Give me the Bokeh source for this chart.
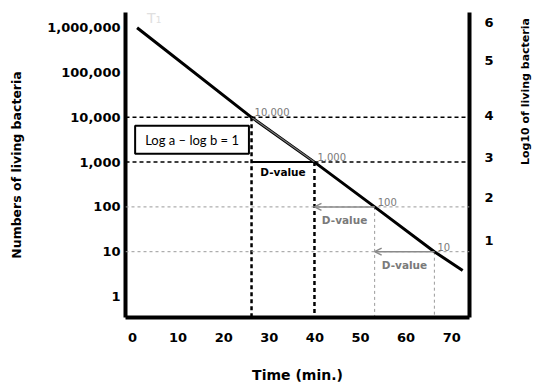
import math
from bokeh.plotting import figure
from bokeh.models import (Range1d, LinearAxis, LinearScale, FixedTicker, Span, Arrow,
                          OpenHead, Label)
from bokeh.core.properties import value
from bokeh.embed import file_html
from bokeh.resources import INLINE

# ---- data ----
times = [1.0, 26.1, 39.9, 53.1, 66.2, 72.4]
counts = [1_000_000, 10_000, 1_000, 100, 10, 3.8]

ref_times = [26.1, 39.9, 53.1, 66.2]
ref_counts = [10_000, 1_000, 100, 10]
ref_labels = ["10,000", "1,000", "100", "10"]

y_ticks = [1, 10, 100, 1_000, 10_000, 100_000, 1_000_000]
y_tick_labels = ["1", "10", "100", "1,000", "10,000", "100,000", "1,000,000"]
x_ticks = [0, 10, 20, 30, 40, 50, 60, 70]
right_tick_pos = [6.12, 5.27, 4.04, 3.1, 2.21, 1.25]
right_tick_labels = ["6", "5", "4", "3", "2", "1"]
d_label = "D-value"
box_text = "Log a \u2013 log b = 1"
curve_name = "T\u2081"
left_title = "Numbers of living bacteria"
right_title = "Log10 of living bacteria"
bottom_title = "Time (min.)"

# ---- layout ----
y_lo_log, y_hi_log = -0.469, 6.34
y_min, y_max = 10 ** y_lo_log, 10 ** y_hi_log
x_min, x_max = -1.54, 73.9

p = figure(width=541, height=385, output_backend="svg", toolbar_location=None,
           y_axis_type="log", x_range=Range1d(x_min, x_max), y_range=Range1d(y_min, y_max),
           min_border_left=125, min_border_right=72, min_border_top=12, min_border_bottom=68,
           background_fill_color="white", border_fill_color="white")
p.outline_line_color = None
p.grid.visible = False

FONT = "DejaVu Sans"

la = p.yaxis[0]
la.ticker = FixedTicker(ticks=y_ticks)
la.major_label_overrides = {t: l for t, l in zip(y_ticks, y_tick_labels)}
la.axis_label = left_title

ba = p.xaxis[0]
ba.ticker = FixedTicker(ticks=x_ticks)
ba.axis_label = bottom_title

p.extra_y_ranges = {"log10": Range1d(y_lo_log, y_hi_log)}
p.extra_y_scales = {"log10": LinearScale()}
ra = LinearAxis(y_range_name="log10", ticker=FixedTicker(ticks=right_tick_pos),
                major_label_overrides={t: l for t, l in zip(right_tick_pos, right_tick_labels)},
                axis_label=right_title)
p.add_layout(ra, "right")

for ax in (la, ba, ra):
    ax.axis_line_width = 4
    ax.axis_line_color = "black"
    ax.major_tick_line_color = None
    ax.minor_tick_line_color = None
    ax.major_tick_out = 0
    ax.major_tick_in = 0
    ax.minor_tick_out = 0
    ax.minor_tick_in = 0
    ax.major_label_text_font = FONT
    ax.major_label_text_font_style = "bold"
    ax.major_label_text_font_size = "13px"
    ax.major_label_text_color = "black"
    ax.axis_label_text_font = FONT
    ax.axis_label_text_font_style = "bold"
    ax.axis_label_text_color = "black"

la.major_label_standoff = 5
la.axis_label_standoff = 20
la.axis_label_text_font_size = "12.5px"
ba.major_label_standoff = 15
ba.axis_label_standoff = 22
ba.axis_label_text_font_size = "14px"
ra.major_label_standoff = 15
ra.axis_label_standoff = 29
ra.axis_label_text_font_size = "11px"
ra.axis_label_orientation = math.pi / 2

# horizontal reference lines
for i, c in enumerate(ref_counts):
    if i < 2:
        p.add_layout(Span(location=c, dimension="width", line_color="black",
                          line_width=1.5, line_dash="4 3"))
    else:
        p.add_layout(Span(location=c, dimension="width", line_color="#9a9a9a",
                          line_width=1, line_dash="3 3"))

# vertical reference lines down to the time axis
p.segment(x0=ref_times[:2], y0=ref_counts[:2], x1=ref_times[:2], y1=[y_min] * 2,
          line_color="black", line_width=2.5, line_dash="4 3")
p.segment(x0=ref_times[2:], y0=ref_counts[2:], x1=ref_times[2:], y1=[y_min] * 2,
          line_color="#9a9a9a", line_width=1, line_dash="3 3")

# D-value intervals
p.segment(x0=[ref_times[0]], y0=[ref_counts[1]], x1=[ref_times[1]], y1=[ref_counts[1]],
          line_color="black", line_width=2)
for i in (1, 2):
    p.add_layout(Arrow(x_start=ref_times[i + 1], y_start=ref_counts[i + 1],
                       x_end=ref_times[i], y_end=ref_counts[i + 1],
                       line_color="#8a8a8a", line_width=1.5,
                       end=OpenHead(size=7, line_color="#8a8a8a", line_width=1.5)))

# survival line
p.line(times, counts, line_color="black", line_width=3)
p.line(ref_times[:2], ref_counts[:2], line_color="#777777", line_width=1.2)

# D-value labels
mid_x = [(ref_times[i] + ref_times[i + 1]) / 2 for i in range(3)]
mid_y = [ref_counts[i + 1] for i in range(3)]
p.text(x=mid_x[:1], y=mid_y[:1], text=[d_label], text_align="center", text_baseline="top",
       y_offset=4, text_font=value(FONT), text_font_style="bold", text_font_size="10.5px",
       text_color="black")
p.text(x=mid_x[1:], y=mid_y[1:], text=[d_label] * 2, text_align="center", text_baseline="top",
       y_offset=7, text_font=value(FONT), text_font_style="bold", text_font_size="10.5px",
       text_color="#7a7a7a")

# point value labels
p.text(x=ref_times, y=ref_counts, text=ref_labels, text_align="left", text_baseline="middle",
       x_offset=3, y_offset=-5, text_font=value(FONT), text_font_size="10px",
       text_color="#7a7a7a")

# curve name
p.add_layout(Label(x=times[0], y=counts[0], text=curve_name, x_offset=10, y_offset=2,
                   text_font=FONT, text_font_size="14px", text_color="#e0e0e0",
                   text_baseline="bottom"))

# formula box
p.add_layout(Label(x=ref_times[0] / 2, y=math.sqrt(ref_counts[0] * ref_counts[1]),
                   text=box_text, text_align="center", text_baseline="middle",
                   text_font="Lato", text_font_size="13px", text_color="black",
                   background_fill_color="white", border_line_color="black",
                   border_line_width=2, padding=dict(left=10, right=10, top=6, bottom=6)))

open("out.html", "w").write(file_html(p, INLINE))
